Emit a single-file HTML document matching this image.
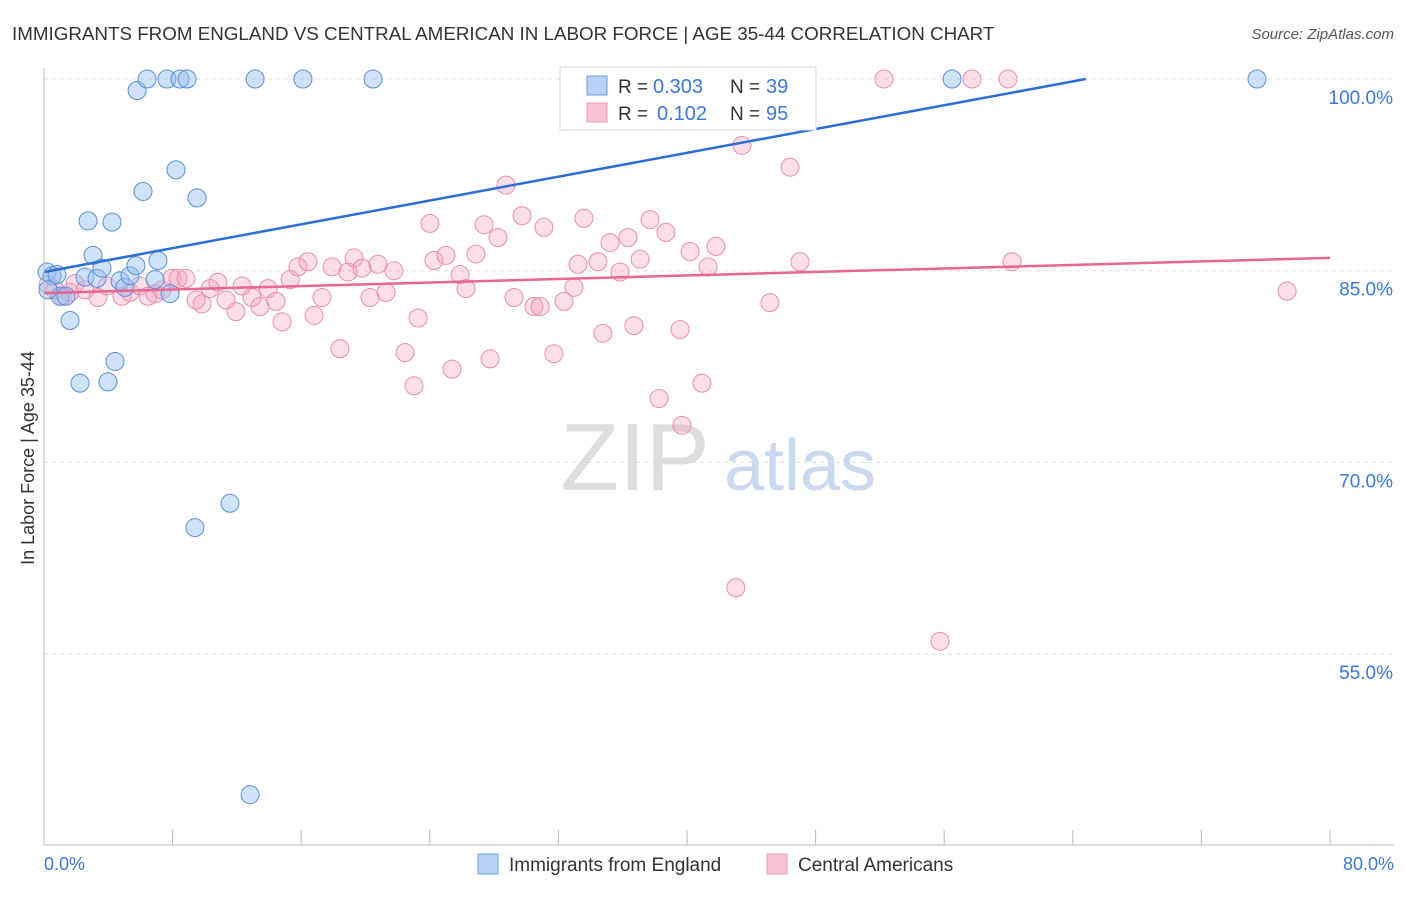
<!DOCTYPE html>
<html><head><meta charset="utf-8"><style>
body{margin:0;background:#fff;font-family:"Liberation Sans",sans-serif;}
svg text{font-family:"Liberation Sans",sans-serif;}
</style></head><body>
<svg id="c" width="1406" height="892">
<text x="12" y="40" font-size="18.8" fill="#333">IMMIGRANTS FROM ENGLAND VS CENTRAL AMERICAN IN LABOR FORCE | AGE 35-44 CORRELATION CHART</text>
<text x="1394" y="39" font-size="15" fill="#555" font-style="italic" text-anchor="end">Source: ZipAtlas.com</text>
<text x="0" y="0" transform="translate(34,458) rotate(-90)" font-size="18" fill="#333" text-anchor="middle">In Labor Force | Age 35-44</text>
<g><text x="635" y="490" font-size="96" fill="#ddd" font-family="Liberation Serif,serif" text-anchor="middle">ZIP</text><text x="800" y="490" font-size="72" fill="#c9d9f0" text-anchor="middle">atlas</text></g>
<g id="grid"></g><g id="pts"></g><g id="lines"></g>
<line x1="44" y1="68" x2="44" y2="845" stroke="#bbb"/>
<line x1="44" y1="845" x2="1394" y2="845" stroke="#bbb"/>
<text x="44" y="870" font-size="18" fill="#3c78d8">0.0%</text>
<text x="1394" y="870" font-size="18" fill="#3c78d8" text-anchor="end">80.0%</text>
<g>
<rect x="560" y="67" width="256" height="63" fill="#fff" stroke="#ddd"/>
<rect x="587" y="76" width="20" height="19" fill="#b8d2f5" stroke="#6a9ce0"/>
<rect x="587" y="103" width="20" height="19" fill="#f9c3d4" stroke="#e99ab4"/>
<text x="618" y="93" font-size="19" fill="#333">R =</text>
<text x="653" y="93" font-size="20" fill="#3c78d8">0.303</text>
<text x="730" y="93" font-size="19" fill="#333">N =</text>
<text x="766" y="93" font-size="20" fill="#3c78d8">39</text>
<text x="618" y="120" font-size="19" fill="#333">R =</text>
<text x="657" y="120" font-size="20" fill="#3c78d8">0.102</text>
<text x="730" y="120" font-size="19" fill="#333">N =</text>
<text x="766" y="120" font-size="20" fill="#3c78d8">95</text>
</g>
<g>
<rect x="478" y="854" width="20" height="20" fill="#b8d2f5" stroke="#6a9ce0"/>
<text x="509" y="871" font-size="19" fill="#333">Immigrants from England</text>
<rect x="767" y="854" width="20" height="20" fill="#f9c3d4" stroke="#e99ab4"/>
<text x="798" y="871" font-size="19" fill="#333">Central Americans</text>
</g>
</svg>
<script>
const yTicks=[100,85,70,55];
const yTickLabels=["100.0%","85.0%","70.0%","55.0%"];
const xTicks=[0,8,16,24,32,40,48,56,64,72,80];
const blueX=[0.19,0.5,0.81,1.0,1.37,1.62,2.24,2.55,2.74,3.05,3.3,3.61,3.98,4.23,4.42,4.73,5.04,5.35,5.72,5.79,6.16,6.41,6.91,7.09,7.65,7.84,8.21,8.46,8.9,9.39,9.52,11.57,12.82,13.13,16.11,20.47,56.49,75.46,0.25];
const blueY=[84.9,84.6,84.7,83.0,83.0,81.1,76.2,84.5,88.9,86.2,84.4,85.2,76.3,88.8,77.9,84.2,83.7,84.6,85.4,99.1,91.2,100,84.3,85.8,100,83.2,92.9,100,100,64.9,90.7,66.8,44.0,100,100,100,100,100,83.5];
const pinkX=[0.25,0.68,1.18,1.62,1.93,2.55,3.36,3.92,4.85,5.35,5.97,6.47,6.91,7.34,7.96,8.34,8.83,9.46,9.83,10.33,10.82,11.32,11.94,12.32,12.94,13.44,13.94,14.43,14.81,15.31,15.8,16.42,16.8,17.29,17.92,18.41,18.91,19.29,19.78,20.28,20.78,21.28,21.77,22.46,23.02,23.27,24.01,24.26,25.01,25.38,25.88,26.25,26.87,27.37,27.75,28.24,28.74,29.24,29.74,30.48,30.86,31.1,31.72,32.35,32.97,33.22,33.59,34.46,34.77,35.21,35.83,36.33,36.7,37.08,37.7,38.26,38.69,39.57,39.69,40.19,40.93,41.31,41.8,43.04,43.42,45.16,46.41,47.03,52.25,55.74,57.73,59.97,60.22,77.33];
const pinkY=[83.9,83.5,83.0,83.3,84.0,83.5,82.9,83.8,83.0,83.3,83.8,83.0,83.2,83.5,84.4,84.4,84.4,82.7,82.4,83.6,84.1,82.7,81.8,83.8,82.9,82.2,83.6,82.6,81.0,84.3,85.3,85.7,81.5,82.9,85.3,78.9,84.9,86.0,85.2,82.9,85.5,83.3,85.0,78.6,76.0,81.3,88.7,85.8,86.2,77.3,84.7,83.6,86.3,88.6,78.1,87.6,91.7,82.9,89.3,82.2,82.2,88.4,78.5,82.6,83.7,85.5,89.1,85.7,80.1,87.2,84.9,87.6,80.7,85.9,89.0,75.0,88.0,80.4,72.9,86.5,76.2,85.3,86.9,60.2,94.8,82.5,93.1,85.7,100,56.0,100,100,85.7,83.4];
const blueTrend=[84.9,0.233];
const pinkTrend=[83.25,0.0344];
const NS='http://www.w3.org/2000/svg';
const X=v=>44+v/80*1286;
const Y=v=>79+(100-v)*12.78;
function mk(t,a,p){const e=document.createElementNS(NS,t);for(const k in a)e.setAttribute(k,a[k]);document.getElementById(p).appendChild(e);return e;}
yTicks.forEach((t,i)=>{
 const g=mk('line',{x1:44,x2:1394,y1:Y(t),y2:Y(t),stroke:'#ddd','stroke-dasharray':'4,4'},'grid');
 
 
 const l=mk('text',{x:1393,y:Y(t)+25,'font-size':19,fill:'#3c78d8','text-anchor':'end'},'grid');
 l.textContent=yTickLabels[i];
 
 
});
xTicks.forEach(t=>{
 const e=mk('line',{x1:X(t),x2:X(t),y1:830,y2:845,stroke:'#bbb'},'grid');
 
 
});
pinkX.forEach((x,i)=>{
 const c=mk('circle',{cx:X(x),cy:Y(pinkY[i]),r:9,fill:'rgba(244,160,188,0.35)',stroke:'#e78fae','stroke-width':1},'pts');
 
 
});
blueX.forEach((x,i)=>{
 const c=mk('circle',{cx:X(x),cy:Y(blueY[i]),r:9,fill:'rgba(150,190,240,0.45)',stroke:'#5b8fd6','stroke-width':1},'pts');
 
 
});
const bx2=Math.min(80,(100-blueTrend[0])/blueTrend[1]);
const bl=mk('line',{x1:X(0),y1:Y(blueTrend[0]),x2:X(bx2),y2:Y(blueTrend[0]+blueTrend[1]*bx2),stroke:'#2b6fd6','stroke-width':2.5},'lines');


const pl=mk('line',{x1:X(0),y1:Y(pinkTrend[0]),x2:X(80),y2:Y(pinkTrend[0]+pinkTrend[1]*80),stroke:'#e8668f','stroke-width':2.5},'lines');


</script>
</body></html>
